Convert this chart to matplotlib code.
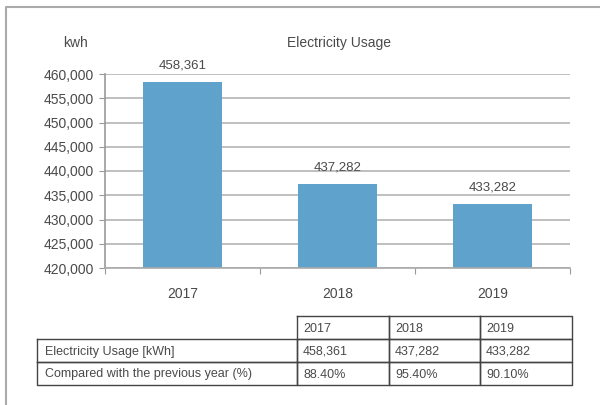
import matplotlib.pyplot as plt
from matplotlib.ticker import FuncFormatter

# Données du graphique
years = ["2017", "2018", "2019"]
usage = [458361, 437282, 433282]
compared = ["88.40%", "95.40%", "90.10%"]
row_labels = ["Electricity Usage [kWh]", "Compared with the previous year (%)"]

plt.rcParams["font.family"] = ["Liberation Sans", "DejaVu Sans"]
TEXT = "#4A4A4A"
BAR = "#5FA3CD"

fig = plt.figure(figsize=(6, 4.05), dpi=100)

# Cadre de fond (coordonnées en pixels)
bg = fig.add_axes([0, 0, 1, 1])
bg.set_xlim(0, 600)
bg.set_ylim(405, 0)
bg.axis("off")
bg.plot([6, 6, 600], [405, 7, 7], color="#AAAAAA", lw=1.5)

# Graphique en barres
ax = fig.add_axes([105 / 600, 137 / 405, 465 / 600, 194 / 405])
x = list(range(len(years)))
bars = ax.bar(x, usage, width=0.51, color=BAR, zorder=2)
ax.set_ylim(420000, 460000)
ax.set_xlim(-0.5, len(years) - 0.5)
ax.yaxis.set_major_formatter(FuncFormatter(lambda v, p: f"{int(v):,}"))
ax.set_yticks(range(420000, 460001, 5000))
ax.grid(axis="y", color="#B4B4B4", lw=1.2, zorder=0)
for s in ["top", "right"]:
    ax.spines[s].set_visible(False)
ax.spines["left"].set_color("#999999")
ax.spines["bottom"].set_color("#AAAAAA")
ax.spines["left"].set_linewidth(1.2)
ax.spines["bottom"].set_linewidth(1.2)
ax.tick_params(axis="y", colors="#999999", labelcolor=TEXT, labelsize=10, length=4, pad=4)

ax.set_xticks([i - 0.5 for i in range(len(years) + 1)])
ax.set_xticklabels([])
ax.set_xticks(x, minor=True)
ax.set_xticklabels(years, minor=True)
ax.tick_params(axis="x", which="major", colors="#999999", length=4, direction="out")
ax.tick_params(axis="x", which="minor", length=0, labelsize=10, labelcolor=TEXT, pad=14)

for b, v in zip(bars, usage):
    ax.annotate(f"{v:,}", (b.get_x() + b.get_width() / 2, v), xytext=(0, 7.5),
                textcoords="offset points", ha="center", va="bottom",
                fontsize=9.5, color=TEXT)

bg.text(75, 43, "kwh", ha="center", va="center", fontsize=10, color=TEXT)
bg.text(339, 43, "Electricity Usage", ha="center", va="center", fontsize=10, color=TEXT)

# Tableau sous le graphique
col_x = [37, 297, 389, 480, 572]
row_y = [316, 339, 362, 385]
rows = [[""] + years,
        [row_labels[0]] + [f"{v:,}" for v in usage],
        [row_labels[1]] + compared]
tc = "#444444"
for r, cells in enumerate(rows):
    y0, y1 = row_y[r], row_y[r + 1]
    for c, txt in enumerate(cells):
        if r == 0 and c == 0:
            continue
        x0, x1 = col_x[c], col_x[c + 1]
        bg.plot([x0, x1, x1, x0, x0], [y0, y0, y1, y1, y0], color=tc, lw=1)
        bg.text(x0 + (8 if c == 0 else 6), (y0 + y1) / 2 + 1, txt,
                ha="left", va="center", fontsize=9, color=TEXT)

fig.savefig("out.png", dpi=100)
